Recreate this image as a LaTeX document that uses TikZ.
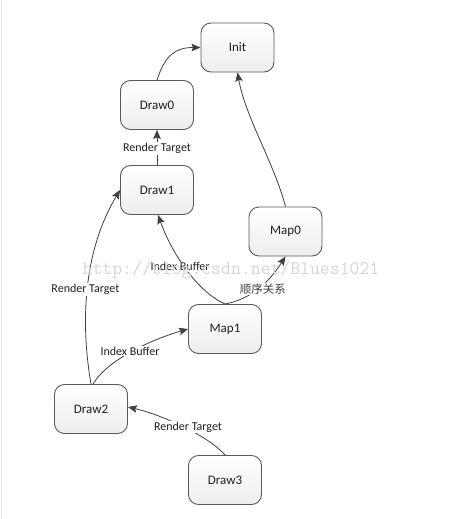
\documentclass[tikz,border=0pt]{standalone}
\usepackage{fontspec}
\setmainfont{Carlito}
\newfontfamily\cjk{Noto Sans CJK SC}
\usetikzlibrary{arrows.meta}
\definecolor{edgecol}{HTML}{404040}
\definecolor{bordercol}{HTML}{5A5A5A}
\definecolor{txtcol}{HTML}{202020}
\tikzset{
  box/.style={draw=bordercol, line width=0.9pt, rounded corners=10pt,
    top color=white, bottom color=gray!14, minimum width=73pt, minimum height=49pt,
    inner sep=0pt, text=txtcol, font=\fontsize{13}{15}\selectfont},
  conn/.style={draw=edgecol, line width=0.8pt, -{Stealth[length=9pt,width=7.5pt,inset=1.5pt]}},
  elabel/.style={fill=white, inner sep=1pt, text=txtcol, font=\fontsize{12}{14}\selectfont},
}
\begin{document}
\begin{tikzpicture}[x=1pt,y=-1pt]
\useasboundingbox (0,0) rectangle (451,519);
\fill[white] (0,0) rectangle (451,519);
\draw[gray!18, line width=0.8pt] (1.5,0) -- (1.5,519);

\node[box] (init)  at (237.5,47.5) {Init};
\node[box] (draw0) at (157,105) {Draw0};
\node[box] (draw1) at (157,190) {Draw1};
\node[box] (map0)  at (285.5,231.5) {Map0};
\node[box] (map1)  at (225,329) {Map1};
\node[box] (draw2) at (91,409) {Draw2};
\node[box] (draw3) at (225,480) {Draw3};

\draw[conn] (draw0.north) .. controls +(8,-25) and +(-25,0) .. (init.west);
\draw[conn] (draw1.north) -- node[elabel, yshift=-1] (l1) {Render Target} (draw0.south);
\draw[conn] (map0.north) .. controls +(-12,-45) and +(8,45) .. (init.south);
\draw[conn] (map1.north) .. controls +(-30,-14) and +(13,36) .. ([xshift=1]draw1.south)
  node[elabel, pos=0.5, xshift=-5, yshift=1] (l2) {Index Buffer};
\draw[conn] (map1.north) .. controls +(25,-5) and +(-18,28) .. (map0.south)
  node[elabel, pos=0.5, xshift=5, text=edgecol, font=\cjk\fontsize{11.5}{13}\selectfont] (l3) {顺序关系};
\draw[conn] (draw2.north) .. controls +(-11,-64) and +(-36,60) .. (draw1.west)
  node[elabel, pos=0.48, xshift=-2] (l4) {Render Target};
\draw[conn] ([xshift=2]draw2.north) .. controls +(15,-25) and +(-35,10) .. (map1.west)
  node[elabel, pos=0.5, xshift=-3] (l5) {Index Buffer};
\draw[conn] (draw3.north) .. controls +(-15,-18) and +(35,8) .. ([yshift=2]draw2.east)
  node[elabel, pos=0.5, xshift=4] (l6) {Render Target};

\node[text=gray!32, font=\ttfamily\fontsize{19.2}{20}\selectfont, inner sep=0pt] (wm) at (231,270) {http://blog.csdn.net/Blues1021};
\end{tikzpicture}
\end{document}
